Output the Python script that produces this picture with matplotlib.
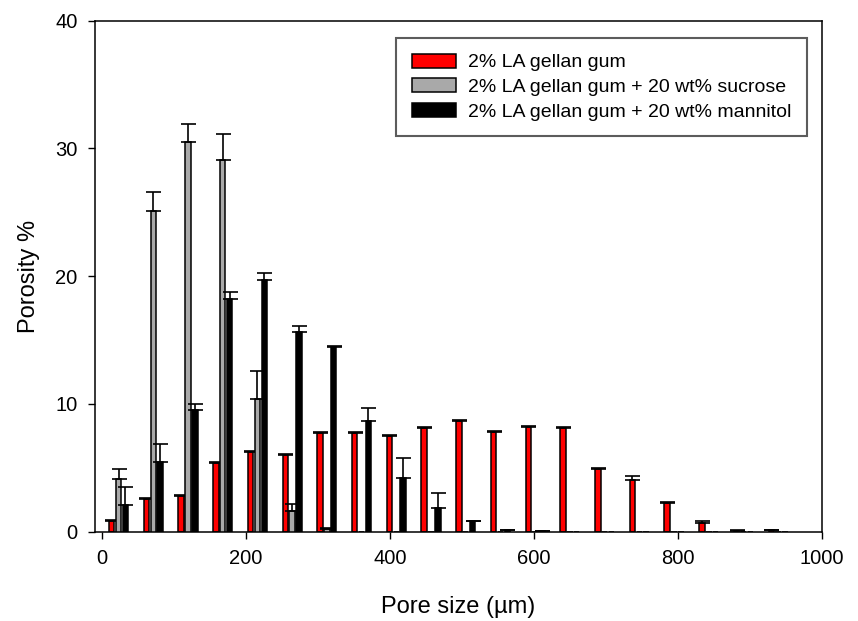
import matplotlib
matplotlib.use("Agg")
import matplotlib.pyplot as plt
import numpy as np

plt.rcParams['font.family'] = ['Liberation Sans', 'DejaVu Sans']

# bin centres (pore size, µm)
pore_size = [23.4, 71.6, 119.8, 168.0, 216.2, 264.4, 312.6, 360.8, 409.0, 457.2,
             505.4, 553.6, 601.8, 650.0, 698.2, 746.4, 794.6, 842.8, 891.0, 939.2]

series_names = ["2% LA gellan gum",
                "2% LA gellan gum + 20 wt% sucrose",
                "2% LA gellan gum + 20 wt% mannitol"]

gellan = [0.8, 2.55, 2.8, 5.35, 6.2, 6.0, 7.72, 7.72, 7.5, 8.1,
          8.63, 7.83, 8.17, 8.09, 4.9, 4.04, 2.26, 0.67, 0.05, 0.1]
gellan_err = [0.1, 0.1, 0.1, 0.08, 0.1, 0.1, 0.08, 0.1, 0.1, 0.1,
              0.08, 0.05, 0.08, 0.08, 0.1, 0.3, 0.05, 0.2, 0.05, 0.05]

sucrose = [4.13, 25.1, 30.48, 29.07, 10.37, 1.6, 0.2, 0, 0, 0,
           0, 0, 0, 0, 0, 0, 0, 0, 0, 0]
sucrose_err = [0.76, 1.5, 1.4, 2.1, 2.2, 0.6, 0.1, 0, 0, 0,
               0, 0, 0, 0, 0, 0, 0, 0, 0, 0]

mannitol = [2.07, 5.46, 9.5, 18.2, 19.68, 15.6, 14.45, 8.65, 4.24, 1.89,
            0.82, 0.1, 0.05, 0, 0, 0, 0, 0, 0, 0]
mannitol_err = [1.43, 1.4, 0.5, 0.55, 0.57, 0.5, 0.1, 1.07, 1.56, 1.15,
                0.05, 0.05, 0.03, 0, 0, 0, 0, 0, 0, 0]

colors = ["#FF0000", "#A9A9A9", "#000000"]
offsets = [-9.5, 0.0, 9.5]
bar_w = 7.6

fig = plt.figure(figsize=(8.58, 6.21), dpi=100)
ax = fig.add_axes([95/858, 1 - 531.7/621, (822 - 95)/858, (531.7 - 20.7)/621])

x = np.array(pore_size)
data = [(gellan, gellan_err), (sucrose, sucrose_err), (mannitol, mannitol_err)]
for i, ((vals, errs), c, off, name) in enumerate(zip(data, colors, offsets, series_names)):
    vals = np.array(vals, dtype=float)
    errs = np.array(errs, dtype=float)
    xs = x + off
    ax.bar(xs, vals, width=bar_w, color=c, edgecolor="black", linewidth=1.1,
           zorder=2 + 2 * i, label=name)
    m = vals > 0
    ax.errorbar(xs[m], vals[m], yerr=[np.zeros(m.sum()), errs[m]], fmt="none",
                ecolor="black", elinewidth=1.2, capsize=5.4, capthick=1.2,
                zorder=3 + 2 * i)

ax.set_xlim(-9.3, 1000)
ax.set_ylim(0, 40)
ax.set_xticks([0, 200, 400, 600, 800, 1000])
ax.set_yticks([0, 10, 20, 30, 40])
ax.tick_params(direction="out", length=5, width=1.0, labelsize=14.5,
               top=False, right=False, pad=7.5)
for s in ax.spines.values():
    s.set_linewidth(1.1)
    s.set_color("black")

ax.set_xlabel("Pore size (µm)", fontsize=17, labelpad=20)
ax.set_ylabel("Porosity %", fontsize=17, labelpad=11)

leg = ax.legend(loc="upper right", bbox_to_anchor=(0.9794, 0.9662),
                borderaxespad=0, fontsize=14, frameon=True, fancybox=False,
                shadow=False, handlelength=2.3, handleheight=0.75,
                handletextpad=0.6, labelspacing=0.35, borderpad=0.8)
leg.get_frame().set_edgecolor("#333333")
leg.get_frame().set_linewidth(1.5)
leg.set_zorder(20)

fig.savefig("out.png", dpi=100)
